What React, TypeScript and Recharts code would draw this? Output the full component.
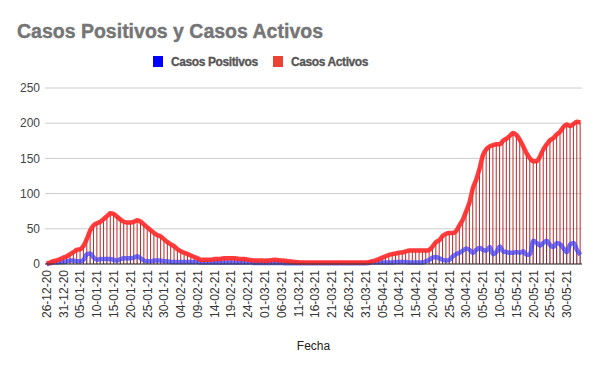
import React from 'react';
import { ComposedChart, Bar, Line, XAxis, YAxis, CartesianGrid } from 'recharts';

const fechas = [
  '26-12-20','27-12-20','28-12-20','29-12-20','30-12-20','31-12-20',
  '01-01-21','02-01-21','03-01-21','04-01-21','05-01-21','06-01-21','07-01-21','08-01-21','09-01-21','10-01-21',
  '11-01-21','12-01-21','13-01-21','14-01-21','15-01-21','16-01-21','17-01-21','18-01-21','19-01-21','20-01-21',
  '21-01-21','22-01-21','23-01-21','24-01-21','25-01-21','26-01-21','27-01-21','28-01-21','29-01-21','30-01-21','31-01-21',
  '01-02-21','02-02-21','03-02-21','04-02-21','05-02-21','06-02-21','07-02-21','08-02-21','09-02-21','10-02-21',
  '11-02-21','12-02-21','13-02-21','14-02-21','15-02-21','16-02-21','17-02-21','18-02-21','19-02-21','20-02-21',
  '21-02-21','22-02-21','23-02-21','24-02-21','25-02-21','26-02-21','27-02-21','28-02-21',
  '01-03-21','02-03-21','03-03-21','04-03-21','05-03-21','06-03-21','07-03-21','08-03-21','09-03-21','10-03-21',
  '11-03-21','12-03-21','13-03-21','14-03-21','15-03-21','16-03-21','17-03-21','18-03-21','19-03-21','20-03-21',
  '21-03-21','22-03-21','23-03-21','24-03-21','25-03-21','26-03-21','27-03-21','28-03-21','29-03-21','30-03-21','31-03-21',
  '01-04-21','02-04-21','03-04-21','04-04-21','05-04-21','06-04-21','07-04-21','08-04-21','09-04-21','10-04-21',
  '11-04-21','12-04-21','13-04-21','14-04-21','15-04-21','16-04-21','17-04-21','18-04-21','19-04-21','20-04-21',
  '21-04-21','22-04-21','23-04-21','24-04-21','25-04-21','26-04-21','27-04-21','28-04-21','29-04-21','30-04-21',
  '01-05-21','02-05-21','03-05-21','04-05-21','05-05-21','06-05-21','07-05-21','08-05-21','09-05-21','10-05-21',
  '11-05-21','12-05-21','13-05-21','14-05-21','15-05-21','16-05-21','17-05-21','18-05-21','19-05-21','20-05-21',
  '21-05-21','22-05-21','23-05-21','24-05-21','25-05-21','26-05-21','27-05-21','28-05-21','29-05-21','30-05-21','31-05-21',
  '01-06-21','02-06-21','03-06-21',
];

const casosActivos = [
  1, 2, 4, 5, 7, 9, 11, 14, 17, 20,
  21, 26, 36, 48, 55, 58, 60, 64, 68, 72,
  71, 67, 63, 60, 59, 59, 60, 62, 60, 56,
  52, 48, 44, 41, 39, 35, 31, 28, 25, 21,
  18, 16, 14, 12, 10, 8, 6, 6, 6, 6,
  7, 7, 7.5, 8, 8, 8, 8, 7.5, 7, 7,
  6, 5.5, 5, 5, 5, 4.7, 5, 5.5, 6, 5.5,
  5, 4.7, 4, 3.5, 3, 2.5, 2, 2, 2, 2,
  2, 2, 2, 2, 2, 2, 2, 2, 2, 2,
  2, 2, 2, 2, 2, 2, 2.5, 4, 5, 7,
  9, 11, 13, 14, 15, 16, 16.5, 18, 19, 19,
  19, 19, 19, 19, 20, 25, 31, 34, 40, 43,
  44, 44, 47, 55, 63, 75, 88, 108, 120, 136,
  155, 163, 167, 169, 170, 170, 175, 178, 182, 186,
  183, 176, 167, 157, 150, 146, 146, 153, 163, 170,
  176, 179, 184, 188, 195, 198, 196, 199, 202, 201,
];

const casosPositivos = [
  0, 1, 2, 2, 3, 3, 4, 5, 5, 4,
  4, 6, 14, 15, 9, 6, 7, 7, 7, 7,
  6, 5, 7, 8, 8, 8, 9, 11, 8, 5,
  4, 4, 5, 5, 5, 4, 4, 3, 3, 3,
  3, 3, 3, 3, 3, 3, 2, 2, 2, 2,
  2, 2, 2, 2, 2, 2, 2, 2, 2, 2,
  2, 2, 1.5, 1.5, 1.5, 1.5, 1.5, 1.5, 1.5, 1.5,
  1.5, 1, 1, 1, 1, 1, 1, 1, 1, 1,
  1, 1, 1, 1, 1, 1, 1, 1, 1, 1,
  1, 1, 1, 1, 1, 1, 1.5, 2, 2, 2,
  2, 2, 2, 2, 3, 3, 3, 3, 2, 2,
  2, 2, 2, 4, 6, 9, 10, 8, 6, 5,
  6, 11, 14, 16, 19, 22, 20, 16, 20, 23,
  20, 19, 24, 14, 17, 25, 18, 17, 16, 16,
  17, 16, 18, 13, 14, 33, 30, 26, 30, 33,
  27, 24, 30, 28, 22, 17, 28, 30, 20, 13,
];

const yTicks = [0, 50, 100, 150, 200, 250];

const data = fechas.map((fecha, i) => ({
  fecha,
  activos: casosActivos[i],
  positivos: casosPositivos[i],
}));

const FONT = '"Liberation Sans", Arial, sans-serif';

const XTick = (props: any) => {
  const { x, y, payload } = props;
  return (
    <g transform={`translate(${x},${y})`}>
      <text
        transform="rotate(-90)"
        x={-6}
        y={0}
        dy="0.35em"
        textAnchor="end"
        fontSize={12}
        fill="#333"
        fontFamily={FONT}
      >
        {payload.value}
      </text>
    </g>
  );
};

export default function App() {
  return (
    <div style={{ position: 'absolute', left: 0, top: 0, width: 600, height: 371, background: '#fff', fontFamily: FONT }}>
      <ComposedChart
        width={600}
        height={371}
        data={data}
        margin={{ top: 88, right: 18, bottom: 0, left: 0 }}
        barGap={-1}
        barCategoryGap={0}
      >
        <CartesianGrid vertical={false} stroke="#cccccc" />
        <XAxis
          dataKey="fecha"
          interval={4}
          height={107}
          tickLine={false}
          tickSize={0}
          tickMargin={0}
          axisLine={{ stroke: '#333' }}
          tick={<XTick />}
          label={{ value: 'Fecha', position: 'insideBottom', offset: 21, fill: '#222', fontSize: 12, fontFamily: FONT }}
        />
        <YAxis
          domain={[0, 250]}
          ticks={yTicks}
          width={45}
          axisLine={false}
          tickLine={false}
          tickSize={0}
          tickMargin={5}
          tick={{ fill: '#444', fontSize: 12, fontFamily: FONT }}
        />
        <Bar dataKey="activos" barSize={1} fill="#b82a2a" isAnimationActive={false} />
        <Bar dataKey="positivos" barSize={1} fill="#15153a" fillOpacity={0.35} isAnimationActive={false} />
        <Line
          type="monotone"
          dataKey="positivos"
          stroke="#3f3ff5"
          strokeOpacity={0.75}
          strokeWidth={4.5}
          dot={false}
          activeDot={false}
          isAnimationActive={false}
        />
        <Line
          type="monotone"
          dataKey="activos"
          stroke="#ff2a2a"
          strokeOpacity={0.92}
          strokeWidth={4.5}
          dot={false}
          activeDot={false}
          isAnimationActive={false}
        />
      </ComposedChart>
      <svg width={600} height={80} style={{ position: 'absolute', left: 0, top: 0 }}>
        <text x={17} y={38} fontSize={19.5} fontWeight={700} fill="#757575" stroke="#757575" strokeWidth={0.4} fontFamily={FONT}>
          Casos Positivos y Casos Activos
        </text>
        <rect x={153} y={56} width={10} height={11} fill="#0000ff" />
        <text x={171} y={66} fontSize={12} fontWeight={700} letterSpacing={-0.4} fill="#555" stroke="#555" strokeWidth={0.3} fontFamily={FONT}>
          Casos Positivos
        </text>
        <rect x={273} y={56} width={10} height={11} fill="#ea4335" />
        <text x={291} y={66} fontSize={12} fontWeight={700} letterSpacing={-0.4} fill="#555" stroke="#555" strokeWidth={0.3} fontFamily={FONT}>
          Casos Activos
        </text>
      </svg>
    </div>
  );
}
